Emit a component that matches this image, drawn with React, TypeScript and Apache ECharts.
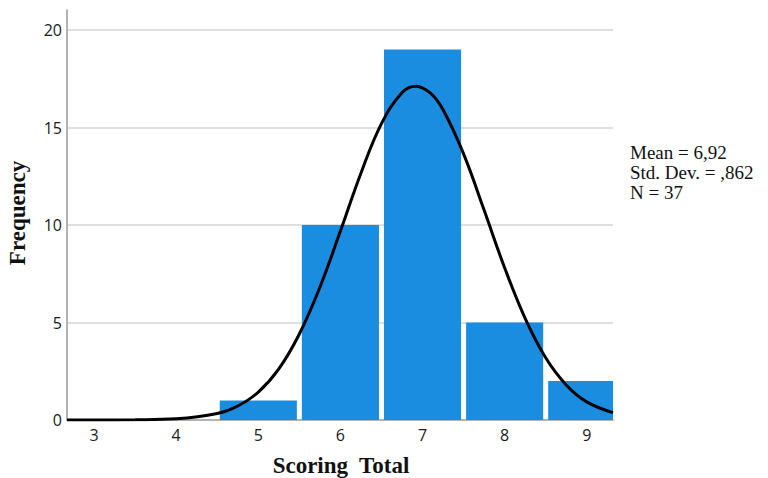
import React, { useEffect, useRef } from "react";
import * as echarts from "echarts";

// Histogram bins (centre of each score) and their frequencies
const binCenters = [5, 6, 7, 8, 9];
const frequencies = [1, 10, 19, 5, 2];

// Normal curve overlay (x, frequency)
const curveX = [2.67, 3, 3.5, 4, 4.5, 4.75, 5, 5.25, 5.5, 5.75, 6, 6.25, 6.5, 6.75, 6.92, 7.1, 7.25, 7.5, 7.75, 8, 8.25, 8.5, 8.75, 9, 9.32];
const curveY = [0, 0, 0.01, 0.06, 0.33, 0.72, 1.43, 2.62, 4.41, 6.81, 9.69, 12.66, 15.2, 16.79, 17.12, 16.75, 15.91, 13.65, 10.77, 7.81, 5.21, 3.19, 1.8, 0.93, 0.38];

const xTicks = [3, 4, 5, 6, 7, 8, 9];
const yTicks = [0, 5, 10, 15, 20];
const statsLines = ["Mean = 6,92", "Std. Dev. = ,862", "N = 37"];

export default function App() {
  const ref = useRef<HTMLDivElement>(null);
  useEffect(() => {
    if (!ref.current) return;
    const chart = echarts.init(ref.current, null, { renderer: "svg" });
    const barData = binCenters.map((c, i) => [c, frequencies[i]]);
    const curveData = curveX.map((x, i) => [x, curveY[i]]);
    chart.setOption({
      animation: false,
      backgroundColor: "#ffffff",
      grid: { left: 67, right: 155, top: 10, bottom: 58 },
      xAxis: {
        type: "value",
        min: 2.67,
        max: 9.32,
        axisLine: { show: true, lineStyle: { color: "#9a9a9a", width: 1.5 } },
        axisTick: { show: false },
        splitLine: { show: false },
        axisLabel: {
          show: true,
          color: "#1a1a1a",
          fontFamily: "Open Sans",
          fontSize: 16,
          margin: 7,
          customValues: xTicks,
          formatter: (v: number) => String(v),
        },
      },
      yAxis: {
        type: "value",
        min: 0,
        max: 21.03,
        interval: 5,
        axisLine: { show: true, lineStyle: { color: "#9a9a9a", width: 1.5 } },
        axisTick: { show: false },
        splitLine: { show: true, showMaxLine: false, showMinLine: false, lineStyle: { color: "#d4d4d4", width: 1.5 } },
        axisLabel: {
          color: "#1a1a1a",
          fontFamily: "Open Sans",
          fontSize: 16,
          margin: 5,
          customValues: yTicks,
          formatter: (v: number) => String(v),
        },
      },
      series: [
        {
          type: "custom",
          clip: true,
          data: barData,
          renderItem: (params: any, api: any) => {
            const c = api.value(0);
            const v = api.value(1);
            const p0 = api.coord([c - 0.5, 0]);
            const p1 = api.coord([c + 0.5, v]);
            const inset = 2.5;
            const shape = echarts.graphic.clipRectByRect(
              { x: p0[0] + inset, y: p1[1], width: p1[0] - p0[0] - inset * 2, height: p0[1] - p1[1] },
              {
                x: params.coordSys.x,
                y: params.coordSys.y,
                width: params.coordSys.width,
                height: params.coordSys.height,
              }
            );
            return shape
              ? { type: "rect", shape, style: { fill: "#1a8de0" } }
              : null;
          },
          z: 2,
        },
        {
          type: "line",
          data: curveData,
          smooth: 0.4,
          showSymbol: false,
          symbol: "none",
          lineStyle: { color: "#000", width: 3 },
          z: 3,
        },
      ],
      graphic: [
        {
          type: "text",
          x: 17,
          y: 213,
          rotation: Math.PI / 2,
          style: {
            text: "Frequency",
            fontFamily: "Liberation Serif",
            fontWeight: "bold",
            fontSize: 23,
            fill: "#111",
            align: "center",
            verticalAlign: "middle",
          },
        },
        {
          type: "text",
          x: 341,
          y: 465,
          style: {
            text: "Scoring  Total",
            fontFamily: "Liberation Serif",
            fontWeight: "bold",
            fontSize: 23,
            fill: "#111",
            align: "center",
            verticalAlign: "middle",
          },
        },
        ...statsLines.map((t, i) => ({
          type: "text",
          x: 630,
          y: 152 + i * 20,
          style: {
            text: t,
            fontFamily: "Liberation Serif",
            fontSize: 19,
            fill: "#111",
            align: "left",
            verticalAlign: "middle",
          },
        })),
      ],
    });
    return () => chart.dispose();
  }, []);
  return <div ref={ref} style={{ width: 768, height: 478, position: "absolute", left: 0, top: 0 }} />;
}
